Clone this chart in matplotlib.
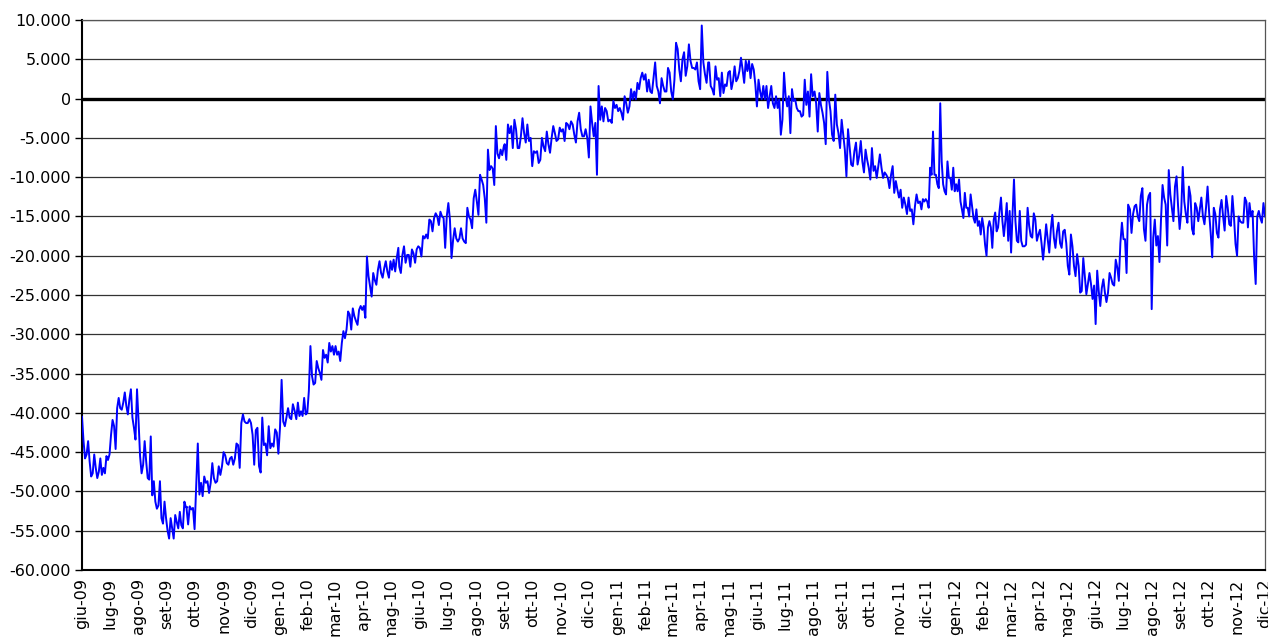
import numpy as np
import pandas as pd
import matplotlib
matplotlib.use("Agg")
import matplotlib.pyplot as plt
from matplotlib.ticker import FuncFormatter

# values in thousands (Jun 2009 -> Dec 2012)
seg_2009a = [-40.5, -43.6, -45.8, -45.3, -43.6, -46.2, -48.1, -47.7, -45.3, -47.0, -48.3, -47.5, -45.8, -47.9,
             -47.0, -47.7, -45.5, -46.0, -45.3, -42.8, -40.9, -41.7, -44.6, -39.4, -38.1, -39.4, -39.6, -38.7,
             -37.4, -39.1, -40.2, -38.3, -37.0, -40.6, -41.9, -43.4, -37.0, -41.0, -45.5, -47.7, -46.6, -43.6,
             -46.2, -48.3, -48.5, -43.0, -50.5, -48.7, -51.3, -52.2, -51.8, -48.7, -53.4, -54.1, -51.3, -53.4,
             -55.0, -56.0, -53.4, -54.7, -56.0, -53.0, -53.9, -54.7, -52.6, -54.3, -54.7, -51.3, -52.0, -52.0]
seg_2009b = [-52.1, -54.2, -51.9, -52.3, -52.1, -54.8, -49.4, -43.9, -50.4, -48.9, -50.6, -48.1, -48.9, -48.7,
             -50.2, -48.9, -46.4, -48.3, -48.9, -48.7, -46.8, -47.9, -46.8, -45.0, -45.4, -46.4, -46.6, -45.8,
             -45.6, -46.6, -45.8, -43.9, -44.1, -47.0, -41.3, -40.2, -41.1, -41.3, -41.3, -40.8, -41.3, -42.8,
             -46.6, -42.2, -41.9, -46.8, -47.6, -40.6, -44.1, -43.9, -45.4, -41.7, -44.5, -43.9, -44.3, -42.1,
             -42.5, -45.2, -41.9, -35.8, -41.1, -41.7, -40.6, -39.4, -40.6, -40.8, -38.9]
seg_2010a = [-39.8, -40.8, -38.7, -40.4, -39.8, -40.4, -38.1, -40.2, -40.0, -37.2, -31.5, -35.3, -36.4, -36.2,
             -33.4, -34.3, -34.9, -35.8, -32.0, -33.0, -32.6, -33.6, -31.1, -32.2, -31.5, -32.6, -31.5, -32.6,
             -32.2, -33.4, -31.1, -29.6, -30.5, -29.4, -27.1, -27.5, -29.4, -26.7, -27.7, -28.3, -28.8, -26.9,
             -26.4, -26.9, -26.4, -27.9, -20.1, -22.6, -23.9, -25.2, -22.2, -23.1, -23.7, -21.8, -20.7, -22.2,
             -22.8, -21.6, -20.7, -22.0, -22.8, -20.7, -21.8, -20.5, -22.0, -20.3, -19.0]
seg_2010b = [-21.4, -22.2, -19.9, -18.8, -20.9, -19.9, -19.9, -21.4, -19.2, -19.7, -20.9, -19.2, -18.8, -19.0,
             -20.1, -17.5, -17.8, -17.3, -17.8, -15.4, -15.6, -16.9, -15.2, -14.6, -15.0, -16.1, -14.4, -15.0,
             -15.2, -19.0, -15.0, -13.3, -15.4, -20.3, -18.0, -16.5, -17.8, -18.2, -17.8, -16.5, -17.8, -18.2,
             -18.4, -13.9, -15.0, -15.4, -16.5, -12.7, -11.6, -13.1, -14.8, -9.7, -10.3, -11.0, -12.7, -15.8,
             -6.5, -9.1, -8.6, -8.9, -11.0, -3.5, -7.0, -7.6, -6.5, -7.2, -6.1]
seg_2010c = [-5.8, -7.8, -3.3, -4.4, -3.5, -6.3, -2.7, -3.9, -6.3, -6.3, -4.8, -2.5, -4.4, -5.6, -3.3, -5.4,
             -5.0, -8.6, -6.7, -6.9, -6.7, -8.2, -7.8, -5.0, -6.1, -6.7, -4.2, -5.8, -6.9, -5.0, -3.5, -4.4,
             -5.4, -5.2, -3.7, -4.2, -3.9, -5.4, -3.1, -3.3, -3.9, -2.9, -3.3, -4.6, -5.6, -2.9, -1.8, -3.9,
             -4.8, -4.8, -3.9, -5.0, -7.5, -1.0, -3.1, -4.8, -3.1, -9.7, 1.6, -2.7, -1.0, -2.9, -1.2, -1.6, -2.9]
seg_2011a = [-2.7, -3.1, -0.3, -1.2, -0.8, -1.6, -1.2, -1.8, -2.7, 0.3, -0.6, -1.8, -1.0, 1.2, -0.1, 0.9,
             -0.1, 2.0, 1.2, 2.6, 3.3, 2.4, 3.1, 0.9, 2.4, 0.9, 0.7, 2.6, 4.6, 1.6, 0.9, -0.6, 2.6, 1.6, 0.9,
             0.9, 3.9, 3.3, 0.9, -0.1, 2.4, 7.1, 6.3, 3.7, 2.2, 5.0, 5.9, 2.9, 4.1, 6.9, 4.8, 3.9, 3.9, 3.7,
             4.6, 2.2, 1.2, 9.3, 4.6, 3.1, 2.0, 4.6]
seg_2011b = [4.6, 1.6, 1.2, 0.5, 4.1, 2.4, 2.6, 0.3, 3.3, 0.7, 1.8, 1.6, 3.3, 3.5, 1.2, 2.2, 4.1, 2.2, 2.6,
             3.5, 5.2, 3.7, 2.0, 4.8, 3.5, 4.8, 2.6, 4.4, 3.7, 1.8, -1.0, 2.4, 0.9, -0.1, 1.6, -0.1, 1.6, -1.2,
             0.3, 1.6, -0.6, -1.2, 0.3, -1.2, -0.1, -4.6, -2.7, 3.3, 0.3, -1.0, 0.3, -4.4, 1.2, -0.3, -0.1,
             -1.2, -1.6, -1.6, -2.3, -2.1, 2.4, -0.8, 0.9, -2.3, 3.1, 0.3]
seg_2011c = [0.9, -0.6, -4.2, 0.7, -0.8, -1.8, -3.1, -5.8, 3.4, -0.1, -1.6, -4.6, -5.4, 0.5, -3.3, -4.4,
             -6.3, -2.7, -4.6, -6.5, -9.9, -3.9, -6.1, -8.4, -8.6, -6.7, -5.6, -8.4, -7.3, -5.4, -8.0, -9.4,
             -6.5, -7.8, -8.8, -10.3, -6.3, -9.2, -8.6, -10.1, -8.6, -7.1, -8.8, -10.1, -9.4, -9.7, -10.1,
             -11.4, -9.7, -8.6, -12.0, -10.5, -11.6, -12.6, -11.6, -13.9, -12.6, -13.5, -14.7, -12.6, -14.3,
             -14.1, -16.0, -13.7, -12.2, -13.3]
seg_2012a = [-13.1, -14.1, -12.8, -13.1, -12.8, -13.1, -13.9, -8.8, -9.7, -4.2, -9.7, -9.7, -10.9, -11.4,
             -0.6, -8.0, -10.9, -11.8, -12.2, -8.0, -10.1, -10.1, -11.6, -8.8, -11.8, -10.9, -11.8, -10.3,
             -13.1, -14.1, -15.2, -12.0, -13.9, -13.9, -15.0, -12.2, -13.7, -15.2, -15.8, -14.1, -16.2, -15.6,
             -17.3, -15.2, -16.4, -18.6, -20.0, -16.4, -15.6, -16.4, -19.0, -15.4, -14.5, -16.9, -16.4, -14.3,
             -12.6, -15.6, -17.5, -15.6, -13.3, -18.1, -14.3, -19.6, -14.7, -10.3, -15.6, -18.1, -18.3, -14.3,
             -18.1, -18.8]
seg_2012b = [-18.8, -18.6, -13.9, -16.2, -17.5, -17.7, -14.6, -15.4, -18.1, -17.3, -16.7, -18.4, -20.5, -18.4,
             -16.0, -17.9, -19.6, -16.7, -14.8, -17.7, -19.0, -16.9, -15.8, -18.4, -19.0, -16.9, -16.7, -18.4,
             -21.3, -22.4, -17.3, -18.8, -21.3, -22.6, -19.8, -21.3, -24.7, -24.5, -20.3, -22.6, -24.9, -23.6,
             -22.2, -23.6, -25.5, -23.8, -28.7, -21.9, -24.5, -26.4, -24.1, -23.0, -24.7, -25.9, -24.7, -22.2,
             -22.8, -23.6, -23.8, -20.5, -21.5, -23.2, -18.4, -15.8, -17.9, -17.9, -22.2, -13.5]
seg_2012c = [-14.1, -17.1, -14.7, -13.7, -13.5, -15.0, -15.6, -12.4, -11.4, -16.6, -18.1, -13.5, -12.4, -12.0,
             -26.8, -17.7, -15.4, -18.7, -17.5, -20.8, -15.4, -11.0, -12.6, -13.5, -18.7, -9.1, -12.2, -13.9,
             -15.6, -11.2, -9.9, -13.7, -16.6, -14.5, -8.7, -13.1, -14.7, -15.8, -11.2, -12.4, -16.6, -17.3,
             -13.3, -13.9, -15.6, -14.1, -12.6, -15.0, -16.0, -13.9, -11.2, -14.5, -17.1, -20.2, -13.9, -14.7,
             -17.1, -17.7, -14.1, -12.9, -15.0, -16.8, -12.4, -13.9, -16.0, -16.2, -12.4, -15.0, -18.5, -20.0,
             -15.0, -15.6, -15.8, -15.8, -12.6, -13.1, -16.4, -13.3, -15.0, -14.3, -20.2, -23.6, -15.0, -14.3,
             -15.2, -15.8, -13.3, -15.0]

# date span (first, last date) covered by each segment above
seg_spans = [('2009-06-01', '2009-09-23'), ('2009-09-22', '2010-01-15'), ('2010-01-17', '2010-05-09'),
             ('2010-05-10', '2010-08-31'), ('2010-09-01', '2010-12-22'), ('2010-12-24', '2011-04-09'),
             ('2011-04-10', '2011-07-31'), ('2011-08-02', '2011-11-22'), ('2011-11-24', '2012-03-14'),
             ('2012-03-16', '2012-07-06'), ('2012-07-08', '2012-12-01')]

month_abbr = ['gen', 'feb', 'mar', 'apr', 'mag', 'giu', 'lug', 'ago', 'set', 'ott', 'nov', 'dic']
start_date = '2009-06-01'
end_date = '2012-12-01'
y_ticks = list(range(-60000, 10001, 5000))

segments = [seg_2009a, seg_2009b, seg_2010a, seg_2010b, seg_2010c, seg_2011a,
            seg_2011b, seg_2011c, seg_2012a, seg_2012b, seg_2012c]
dates = pd.DatetimeIndex(np.concatenate([
    pd.date_range(s, e, periods=len(seg)).values for seg, (s, e) in zip(segments, seg_spans)]))
values = np.concatenate([np.array(seg) for seg in segments]) * 1000

plt.rcParams['font.family'] = ['DejaVu Sans']
fig = plt.figure(figsize=(12.68, 6.37), dpi=100)
ax = fig.add_axes([82 / 1268, 67 / 637, (1265 - 82) / 1268, 550 / 637])

ax.set_ylim(-60000, 10000)
ax.set_xlim(pd.Timestamp(start_date), pd.Timestamp(end_date))
ax.set_yticks(y_ticks)
ax.yaxis.set_major_formatter(FuncFormatter(lambda v, p: f"{int(v):,}".replace(',', '.')))
ax.grid(axis='y', color='#333333', linewidth=0.9, zorder=0)
ax.axhline(0, color='black', linewidth=2.4, zorder=2)

ax.plot(dates, values, color='#0000FF', linewidth=1.4, zorder=3)

month_ticks = pd.date_range(start_date, end_date, freq='MS')
ax.set_xticks(month_ticks)
ax.set_xticklabels([f"{month_abbr[d.month - 1]}-{d.year % 100:02d}" for d in month_ticks],
                   rotation=90, fontsize=11.5)
ax.tick_params(axis='x', length=0, pad=6)
ax.tick_params(axis='y', length=5, width=1, labelsize=11.5, pad=3)

for s in ['left', 'bottom']:
    ax.spines[s].set_color('black')
    ax.spines[s].set_linewidth(1.5)
for s in ['top', 'right']:
    ax.spines[s].set_color('#555555')
    ax.spines[s].set_linewidth(0.9)

fig.savefig('out.png', dpi=100)
